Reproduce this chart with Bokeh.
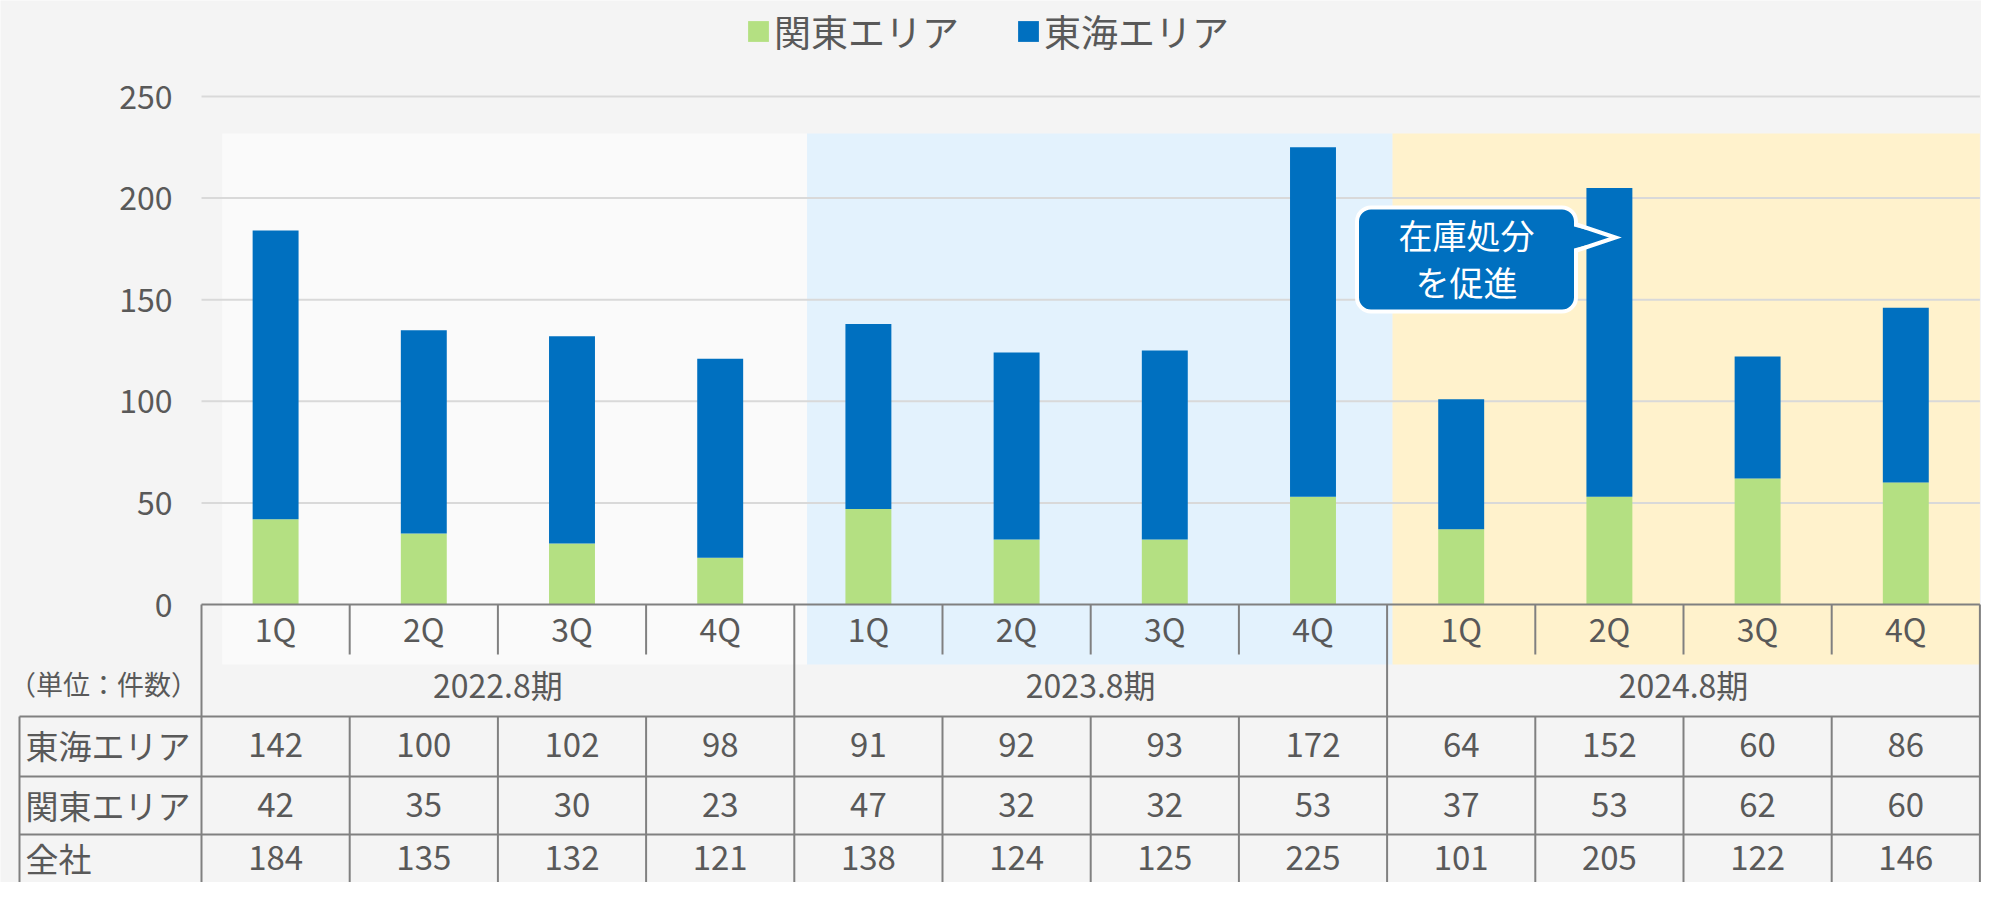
from bokeh.plotting import figure
from bokeh.models import Range1d, Legend, LegendItem, ColumnDataSource
from bokeh.core.properties import value
from bokeh.embed import file_html
from bokeh.resources import INLINE

# ---------------- data ----------------
quarters = ["1Q", "2Q", "3Q", "4Q"] * 3
periods = ["2022.8期", "2023.8期", "2024.8期"]
tokai = [142, 100, 102, 98, 91, 92, 93, 172, 64, 152, 60, 86]
kanto = [42, 35, 30, 23, 47, 32, 32, 53, 37, 53, 62, 60]
total = [184, 135, 132, 121, 138, 124, 125, 225, 101, 205, 122, 146]
series_names = ["関東エリア", "東海エリア"]
row_labels = ["東海エリア", "関東エリア", "全社"]
unit_label = "（単位：件数）"
y_ticks = [0, 50, 100, 150, 200, 250]
callout_lines = ["在庫処分", "を促進"]

# ---------------- style / layout ----------------
FONT_NAME = "Noto Sans CJK JP"
FONT = value(FONT_NAME)
TXT = "#595959"
GREEN = "#B4E082"
BLUE = "#0070C0"
BG = "#F4F4F4"
GRID = "#D9D9D9"
LINE = "#808080"
BAND_COLORS = ["#FAFAFA", "#E3F2FD", "#FFF2CC"]

W, H = 1981, 882
COL0 = 201.0          # px of the first column edge
COLW = 148.2          # px per column
ZERO = 604.0          # px of value 0
PPU = 2.032           # px per value unit


def dx(px):  # px -> data x
    return (px - COL0) / COLW


def dy(py):  # px -> data y
    return (ZERO - py) / PPU


p = figure(width=W, height=H, output_backend="svg", toolbar_location=None,
           x_range=Range1d(dx(0), dx(W)), y_range=Range1d(dy(H), dy(0)),
           x_axis_location=None, y_axis_location=None, min_border=0,
           background_fill_color=BG, border_fill_color=BG, outline_line_color=None)
p.grid.visible = False

n = len(quarters)
xs = [i + 0.5 for i in range(n)]

# period bands (in column units)
band_left = [0.14, 4.086, 8.037]
band_right = [4.086, 8.037, float(n)]
p.quad(left=band_left, right=band_right, bottom=dy(664), top=dy(133),
       fill_color=BAND_COLORS, line_color=None)

# gridlines
grid_vals = y_ticks[1:]
p.segment(x0=[0.0] * len(grid_vals), x1=[float(n)] * len(grid_vals),
          y0=grid_vals, y1=grid_vals, line_color=GRID, line_width=2)

# y tick labels
p.text(x=[dx(172)] * len(y_ticks), y=y_ticks, text=[str(v) for v in y_ticks],
       text_font=FONT, text_font_size=value("32px"), text_color=TXT,
       text_align="right", text_baseline="middle")

# stacked bars
src = ColumnDataSource(dict(x=xs, kanto=kanto, tokai=tokai))
rs = p.vbar_stack(["kanto", "tokai"], x="x", width=0.31, color=[GREEN, BLUE],
                  line_color=None, source=src)

# table lines
y_q = dy(654)
y_r = [dy(716), dy(776), dy(834)]
y_bot = dy(900)
x_lab = dx(19)
vx0, vy0, vx1, vy1 = [], [], [], []
for k in range(n + 1):
    if k % 4 == 0:
        vx0.append(k); vx1.append(k); vy0.append(0); vy1.append(y_bot)
    else:
        vx0 += [k, k]; vx1 += [k, k]; vy0 += [0, y_r[0]]; vy1 += [y_q, y_bot]
vx0.append(x_lab); vx1.append(x_lab); vy0.append(y_r[0]); vy1.append(y_bot)
vx0.append(0); vx1.append(n); vy0.append(0); vy1.append(0)
for yy in y_r:
    vx0.append(x_lab); vx1.append(n); vy0.append(yy); vy1.append(yy)
p.segment(x0=vx0, y0=vy0, x1=vx1, y1=vy1, line_color=LINE, line_width=2)

# table texts
p.text(x=xs, y=[dy(627)] * n, text=quarters, text_font=FONT,
       text_font_size=value("32px"), text_color=TXT, text_align="center",
       text_baseline="middle")
p.text(x=[2, 6, 10], y=[dy(683)] * 3, text=periods, text_font=FONT,
       text_font_size=value("32px"), text_color=TXT, text_align="center",
       text_baseline="middle")
row_y = [dy(744), dy(804), dy(857)]
for vals, yy in zip([tokai, kanto, total], row_y):
    p.text(x=xs, y=[yy] * n, text=[str(v) for v in vals], text_font=FONT,
           text_font_size=value("33px"), text_color=TXT, text_align="center",
           text_baseline="middle")
p.text(x=[dx(25)] * 3, y=row_y, text=row_labels, text_font=FONT,
       text_font_size=value("33px"), text_color=TXT, text_align="left",
       text_baseline="middle")
p.text(x=[dx(103)], y=[dy(683)], text=[unit_label], text_font=FONT,
       text_font_size=value("27px"), text_color=TXT, text_align="center",
       text_baseline="middle")

# callout (anchored next to the 2024 2Q bar)
cx, cy = dx(1466), dy(259)
p.rect(x=[cx], y=[cy], width=219, height=104, width_units="screen",
       height_units="screen", fill_color=BLUE, line_color="white",
       line_width=4, border_radius=14)
p.patch(x=[dx(1566), dx(1615), dx(1566)], y=[dy(224), dy(237), dy(250)],
        fill_color=BLUE, line_color=None)
p.multi_line(xs=[[dx(1576), dx(1615), dx(1576)]], ys=[[dy(224), dy(237), dy(250)]],
             line_color="white", line_width=4, line_join="miter")
p.text(x=[cx, cx], y=[dy(234), dy(281)], text=callout_lines, text_font=FONT,
       text_font_size=value("34px"), text_color="white", text_align="center",
       text_baseline="middle")

# legend
legend = Legend(items=[LegendItem(label=series_names[0], renderers=[rs[0]]),
                       LegendItem(label=series_names[1], renderers=[rs[1]])],
                orientation="horizontal", location=(745, H - 58),
                glyph_width=26, glyph_height=26, label_standoff=3,
                label_width=207, spacing=34, padding=0, margin=0,
                border_line_color=None, background_fill_alpha=0,
                label_text_font=FONT_NAME, label_text_font_size="37px",
                label_text_color=TXT)
p.add_layout(legend, "center")

open("out.html", "w").write(file_html(p, INLINE))
